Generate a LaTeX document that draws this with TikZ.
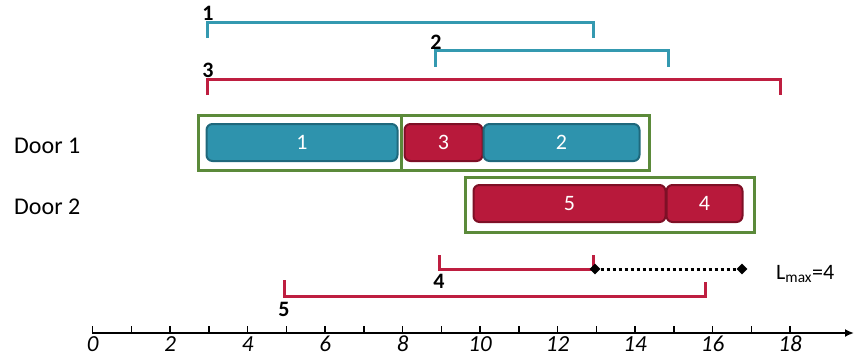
\documentclass[tikz,border=0pt]{standalone}
\usepackage{fontspec}
\setmainfont{Carlito}
\usetikzlibrary{arrows.meta,shapes.geometric}
\definecolor{tealfill}{HTML}{2E93AD}
\definecolor{tealdark}{HTML}{1F687C}
\definecolor{tealline}{HTML}{3499B0}
\definecolor{redfill}{HTML}{B8193B}
\definecolor{reddark}{HTML}{7E1026}
\definecolor{redline}{HTML}{BE1E40}
\definecolor{grn}{HTML}{5B8A3A}
\begin{document}
\begin{tikzpicture}[x=1pt,y=-1pt,
  task/.style={rounded corners=6pt,line width=2pt,minimum height=37pt,inner sep=0pt,
    text=white,font=\fontsize{22}{22}\selectfont},
  tealtask/.style={task,fill=tealfill,draw=tealdark},
  redtask/.style={task,fill=redfill,draw=reddark},
  gbox/.style={draw=grn,line width=3pt,minimum height=55pt,inner sep=0pt},
  tline/.style={draw=tealline,line width=3pt},
  rline/.style={draw=redline,line width=3pt},
  blab/.style={anchor=base,inner sep=0pt,font=\fontsize{22}{22}\selectfont\bfseries},
  doorlab/.style={anchor=base west,inner sep=0pt,font=\fontsize{24}{24}\selectfont},
  axlab/.style={anchor=base,inner sep=0pt,font=\fontsize{23}{23}\selectfont\itshape},
  dia/.style={diamond,fill=black,inner sep=0pt,minimum size=11pt}]
\useasboundingbox (0,0) rectangle (855,359);

% top intervals
\draw[tline] (207.7,38) -- (207.7,22.7) -- (593,22.7) -- (593,38);
\node[blab] (l1) at (208,20) {1};
\draw[tline] (435.5,66.7) -- (435.5,50) -- (668,50) -- (668,66.7);
\node[blab] (l2) at (436,49) {2};
\draw[rline] (207.7,95) -- (207.7,79) -- (780,79) -- (780,95);
\node[blab] (l3) at (208,77) {3};

% doors
\node[doorlab] (d1) at (14,153) {Door 1};
\node[doorlab] (d2) at (14,214) {Door 2};

\node[gbox,minimum width=203pt] (g1a) at (299.5,143) {};
\node[gbox,minimum width=248pt] (g1b) at (525,143) {};
\node[gbox,minimum width=289pt] (g2) at (609.5,205) {};

\node[tealtask,minimum width=191pt] (t1) at (302,142.5) {1};
\node[redtask,minimum width=78pt] (t3) at (443.5,142.5) {3};
\node[tealtask,minimum width=156pt] (t2) at (561.5,142.5) {2};
\node[redtask,minimum width=192pt] (t5) at (569.5,203.5) {5};
\node[redtask,minimum width=76pt] (t4) at (704.5,203.5) {4};

% bottom intervals
\draw[rline] (439,255) -- (439,269) -- (593,269) -- (593,255);
\node[blab] (l4) at (439,288) {4};
\node[dia] (m1) at (595,269) {};
\node[dia] (m2) at (742,269) {};
\draw[line width=3pt,dash pattern=on 3pt off 3pt] (m1) -- (m2);
\node[anchor=base west,inner sep=0pt,font=\fontsize{22}{22}\selectfont] (lmax) at (776,279) {L\textsubscript{max}=4};
\draw[rline] (284,280) -- (284,296) -- (705.7,296) -- (705.7,281.7);
\node[blab] (l5) at (284,316) {5};

% axis
\coordinate (a0) at (92,333);
\coordinate (a1) at (854,333);
\draw[line width=2.5pt,-{Latex[length=9pt,width=8pt]}] (a0) -- (a1);
\foreach \i in {0,...,18}{
  \draw[line width=1.5pt] ({92.7+38.74*\i},333) -- ({92.7+38.74*\i},325.5);
}
\foreach \i in {0,2,...,18}{
  \node[axlab] at ({92.7+38.74*\i},351) {\i};
}
\end{tikzpicture}
\end{document}
